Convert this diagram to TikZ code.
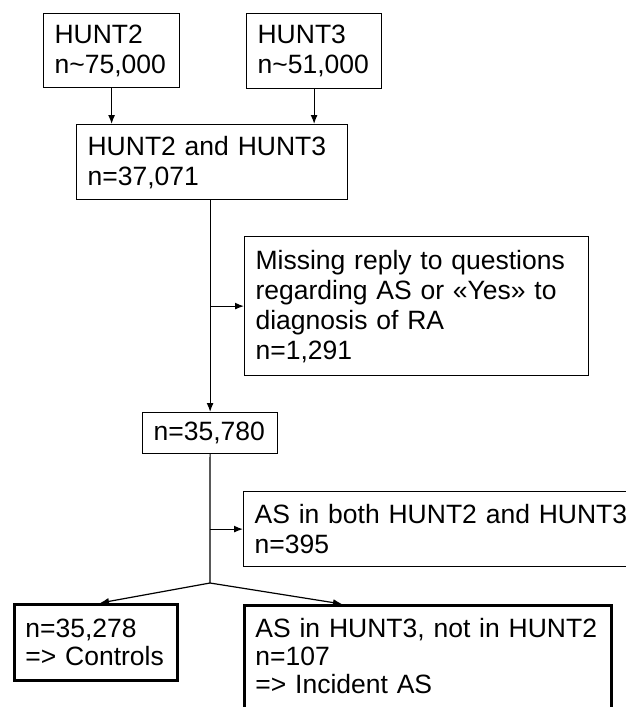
\documentclass[tikz,border=0pt]{standalone}
\usepackage{fontspec}
\setmainfont{Liberation Sans}
\usetikzlibrary{positioning,arrows.meta}
\tikzstyle{stage} = [rectangle, draw, line width=1.2pt, anchor=north west, align=left, inner xsep=11pt, inner ysep=0pt, font=\fontsize{26.5}{30}\selectfont]
\tikzstyle{final} = [stage, line width=2.8pt, font=\fontsize{26.5}{28}\selectfont]
\tikzstyle{flow}  = [draw, line width=1.2pt, -{Latex[length=9pt,width=7pt]}]
\tikzstyle{plain} = [draw, line width=1.2pt]

\begin{document}
\begin{tikzpicture}[x=1pt, y=-1pt]
	\useasboundingbox (0,0) rectangle (626,707);

	% place nodes
	\node [stage, text width=114pt, minimum height=74pt] (N1) at (43,13) {HUNT2\\n\textasciitilde75,000};
	\node [stage, text width=113pt, minimum height=75pt] (N2) at (246,13) {HUNT3\\n\textasciitilde51,000};
	\node [stage, text width=249pt, minimum height=75pt] (N3) at (76,124) {HUNT2 and HUNT3\\n=37,071};
	\node [stage, text width=322pt, minimum height=139pt] (N4) at (244,236) {Missing reply to questions\\regarding AS or «Yes» to\\diagnosis of RA\\n=1,291};
	\node [stage, text width=113pt, minimum height=41pt] (N5) at (142,412) {n=35,780};
	\node [stage, text width=375pt, minimum height=75pt] (N6) at (243,491) {AS in both HUNT2 and HUNT3\\n=395};
	\node [final, text width=141pt, minimum height=76pt] (N7) at (13,603) {n=35,278\\=> Controls};
	\node [final, text width=345pt, inner ysep=13pt, text depth=130pt] (N8) at (243,604) {AS in HUNT3, not in HUNT2\\n=107\\=> Incident AS};
	\coordinate (S) at (210,583);

	% draw edges
	\path [flow]  (N1.south) -- (N1.south |- N3.north);
	\path [flow]  (N2.south) -- (N2.south |- N3.north);
	\path [flow]  (N5.north |- N3.south) -- (N5.north);
	\path [flow]  (N5.north |- N4.west) -- (N4.west);
	\path [plain] (N5.south) -- (S);
	\path [flow]  (N5.south |- N6.west) -- (N6.west);
	\path [flow]  (S) -- ([xshift=87pt]N7.north west);
	\path [flow]  (S) -- ([xshift=99pt]N8.north west);
\end{tikzpicture}
\end{document}
